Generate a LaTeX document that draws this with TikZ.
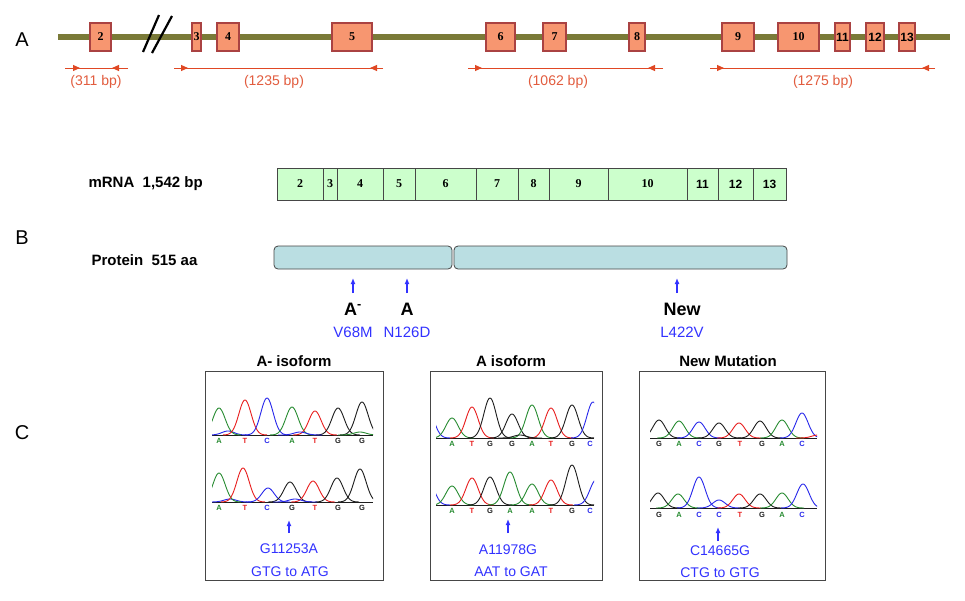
\documentclass[tikz,border=0pt]{standalone}
\usepackage{fontspec}
\setmainfont{Liberation Sans}
\newfontfamily\tnr{Liberation Serif}
\usetikzlibrary{arrows.meta}
\definecolor{bbone}{RGB}{122,122,56}
\definecolor{exfill}{RGB}{247,150,112}
\definecolor{exdraw}{RGB}{170,66,66}
\definecolor{bpred}{RGB}{224,72,36}
\definecolor{bptext}{RGB}{226,92,62}
\definecolor{mfill}{RGB}{204,255,204}
\definecolor{pfill}{RGB}{186,222,226}
\definecolor{mblue}{RGB}{50,50,255}
\definecolor{tG}{RGB}{40,140,50}
\definecolor{tR}{RGB}{232,30,30}
\definecolor{tB}{RGB}{40,40,235}
\definecolor{tK}{RGB}{30,30,30}
\definecolor{edgegray}{RGB}{70,70,70}
\newcommand\fs[1]{\fontsize{#1}{#1}\selectfont}
\newcommand\pk[4]{\draw[#4,line width=0.9pt] plot[domain={#1-22}:{#1+22},samples=45,smooth] (\x,{#2-#3*exp(-((\x-#1)*(\x-#1))/75)});}
\newcommand\trace[2]{\foreach \px/\ph/\pc in {#2}{\pk{\px}{#1}{\ph}{\pc}}}
\newcommand\bases[3]{\foreach \lx/\lt/\lc [count=\k] in {#3}{\node[base,text=\lc] (#1\k) at (\lx,#2) {\lt};}}
\begin{document}
\begin{tikzpicture}[x=1pt,y=-1pt,
  exon/.style={draw=exdraw,fill=exfill,line width=1.1pt,inner sep=0pt,minimum height=28pt,font=\tnr\bfseries\fs{12}},
  mcell/.style={draw=edgegray,fill=mfill,line width=0.8pt,inner sep=0pt,minimum height=32pt,font=\tnr\bfseries\fs{12}},
  pbar/.style={draw=edgegray,fill=pfill,line width=0.8pt,rounded corners=4pt,inner sep=0pt,minimum height=23pt},
  bpline/.style={draw=bpred,line width=1pt},
  bptip/.style={bpline,-{Triangle[length=7pt,width=6pt]}},
  bptxt/.style={text=bptext,font=\fs{14}},
  panel/.style={font=\fs{20}},
  rowlab/.style={font=\bfseries\fs{15}},
  mutlab/.style={font=\bfseries\fs{18}},
  blu/.style={text=mblue,font=\fs{15}},
  blu2/.style={text=mblue,font=\fs{14}},
  barrow/.style={draw=mblue,line width=1.2pt,-{Latex[length=6pt,width=5pt]}},
  cbox/.style={draw=edgegray,line width=0.9pt,inner sep=0pt},
  ctitle/.style={font=\bfseries\fs{15}},
  base/.style={font=\bfseries\fs{7.5},inner sep=0pt},
]
\path[fill=white,use as bounding box] (0,0) rectangle (965,600);

% panel letters
\node[panel] (LA) at (22,40) {A};
\node[panel] (LB) at (22,238) {B};
\node[panel] (LC) at (22,433) {C};

% ---------- A: gene structure ----------
\coordinate (bbL) at (58,37);
\coordinate (bbR) at (950,37);
\draw[bbone,line width=5.5pt] (bbL) -- (bbR);
\draw[black,line width=2.2pt] (143,52) -- (159,15);
\draw[black,line width=2.2pt] (152,53) -- (172,16);
\foreach \a/\b/\n in {90/111/2,192/201/3,217/239/4,332/372/5,486/515/6,543/566/7,629/645/8,722/754/9,778/819/10}
  {\node[exon,minimum width={\b-\a}] (e\n) at ({(\a+\b)/2},37) {\n};}
\foreach \a/\b/\n in {835/850/11,866/884/12,899/915/13}
  {\node[exon,minimum width={\b-\a},font=\bfseries\fs{12}] (e\n) at ({(\a+\b)/2},37) {\n};}

\foreach \i/\l/\r/\ta/\tb/\tx/\txt in {1/65/128/80/112/96/311,2/174/383/188/370/274/1235,3/468/663/482/648/558/1062,4/710/935/724/922/823/1275}{
  \coordinate (bl\i) at (\l,68);
  \coordinate (br\i) at (\r,68);
  \coordinate (ta\i) at (\ta,68);
  \coordinate (tb\i) at (\tb,68);
  \draw[bpline] (bl\i) -- (br\i);
  \draw[bptip] (bl\i) -- (ta\i);
  \draw[bptip] (br\i) -- (tb\i);
  \node[bptxt] (bt\i) at (\tx,82) {(\txt\ bp)};
}

% ---------- B: mRNA and protein ----------
\node[rowlab,anchor=west] (mlab) at (85,184) {mRNA\ \ 1,542 bp};
\foreach \a/\b/\n in {277/323/2,323/337/3,337/383/4,383/415/5,415/476/6,476/518/7,518/549/8,549/608/9,608/687/10}
  {\node[mcell,minimum width={\b-\a}] (m\n) at ({(\a+\b)/2},184) {\n};}
\foreach \a/\b/\n in {687/718/11,718/753/12,753/786/13}
  {\node[mcell,minimum width={\b-\a},font=\bfseries\fs{12}] (m\n) at ({(\a+\b)/2},184) {\n};}

\node[rowlab,anchor=west] (plab) at (88,260) {Protein\ \ 515 aa};
\node[pbar,minimum width=178] (p1) at (363,257.5) {};
\node[pbar,minimum width=333] (p2) at (620.5,257.5) {};

\node[mutlab] (mAm) at (353,309) {A\textsuperscript{-}};
\node[mutlab] (mA) at (407,309) {A};
\node[mutlab] (mNew) at (682,309) {New};
\node[blu] (vAm) at (353,332) {V68M};
\node[blu] (vA) at (407,332) {N126D};
\node[blu] (vNew) at (682,332) {L422V};
\coordinate (aAm0) at (353,293); \coordinate (aAm1) at (353,278);
\coordinate (aA0) at (407,293); \coordinate (aA1) at (407,278);
\coordinate (aN0) at (677,293); \coordinate (aN1) at (677,278);
\draw[barrow] (aAm0) -- (aAm1);
\draw[barrow] (aA0) -- (aA1);
\draw[barrow] (aN0) -- (aN1);

% ---------- C: chromatograms ----------
\node[ctitle] (t1) at (294,361) {A- isoform};
\node[ctitle] (t2) at (511,361) {A isoform};
\node[ctitle] (t3) at (728,361) {New Mutation};
\node[cbox,minimum width=178,minimum height=209] (bx1) at (294,475.5) {};
\node[cbox,minimum width=172,minimum height=209] (bx2) at (516,475.5) {};
\node[cbox,minimum width=186,minimum height=209] (bx3) at (732,475.5) {};

% box 1
\begin{scope}
\clip (212,375) rectangle (373,530);
\draw[tR,line width=0.9pt] (212,435.9) -- (373,435.9);
\draw[tK,line width=0.6pt] (212,435) -- (373,435);
\trace{435}{228/4/tB,219/27/tG,245/35/tR,267/37/tB,292/28/tG,315/24/tR,338/27/tK,362/33/tK,300/3/tB,360/3/tG}
\draw[tR,line width=0.9pt] (212,502.9) -- (373,502.9);
\draw[tK,line width=0.6pt] (212,502) -- (373,502);
\trace{502}{230/3/tB,219/29/tG,243/34/tR,268/14/tB,290/20/tK,313/21/tR,337/24/tK,360/33/tK,295/3/tB}
\end{scope}
\bases{b1t}{441}{219/A/tG,245/T/tR,267/C/tB,292/A/tG,315/T/tR,338/G/tK,362/G/tK}
\bases{b1b}{508}{219/A/tG,245/T/tR,267/C/tB,292/G/tK,315/T/tR,338/G/tK,362/G/tK}
\coordinate (c1a) at (289,533); \coordinate (c1b) at (289,520);
\draw[barrow] (c1a) -- (c1b);
\node[blu2] (g1) at (289,549) {G11253A};
\node[blu2] (h1) at (290,572) {GTG to ATG};

% box 2
\begin{scope}
\clip (436,375) rectangle (594,530);
\draw[tR,line width=0.9pt] (436,438.9) -- (594,438.9);
\draw[tK,line width=0.6pt] (436,438) -- (594,438);
\trace{438}{428/28/tB,452/20/tG,472/31/tR,490/40/tK,512/24/tK,532/33/tG,551/30/tR,572/33/tK,593/36/tB,520/3/tK}
\draw[tR,line width=0.9pt] (436,505.9) -- (594,505.9);
\draw[tK,line width=0.6pt] (436,505) -- (594,505);
\trace{505}{428/25/tB,452/19/tG,472/27/tR,490/28/tK,510/33/tG,532/21/tG,551/25/tR,572/40/tK,596/25/tB}
\end{scope}
\bases{b2t}{444}{452/A/tG,472/T/tR,490/G/tK,512/G/tK,532/A/tG,551/T/tR,572/G/tK,590/C/tB}
\bases{b2b}{511}{452/A/tG,472/T/tR,490/G/tK,510/A/tG,532/A/tG,551/T/tR,572/G/tK,590/C/tB}
\coordinate (c2a) at (508,533); \coordinate (c2b) at (508,519);
\draw[barrow] (c2a) -- (c2b);
\node[blu2] (g2) at (508,550) {A11978G};
\node[blu2] (h2) at (511,572) {AAT to GAT};

% box 3
\begin{scope}
\clip (650,375) rectangle (817,530);
\draw[tR,line width=0.9pt] (650,438.9) -- (817,438.9);
\draw[tK,line width=0.6pt] (650,438) -- (817,438);
\trace{438}{659/18/tK,679/17/tG,699/16/tB,719/15/tK,739/15/tR,760/17/tK,782/18/tG,802/25/tB,818/3/tR}
\draw[tR,line width=0.9pt] (650,508.9) -- (817,508.9);
\draw[tK,line width=0.6pt] (650,508) -- (817,508);
\trace{508}{658/15/tK,678/14/tG,699/31/tB,719/8/tB,739/14/tR,760/14/tK,782/15/tG,803/24/tB}
\end{scope}
\bases{b3t}{444}{659/G/tK,679/A/tG,699/C/tB,719/G/tK,740/T/tR,762/G/tK,782/A/tG,802/C/tB}
\bases{b3b}{515}{659/G/tK,679/A/tG,699/C/tB,719/C/tB,740/T/tR,762/G/tK,782/A/tG,802/C/tB}
\coordinate (c3a) at (718,541); \coordinate (c3b) at (718,527);
\draw[barrow] (c3a) -- (c3b);
\node[blu2] (g3) at (720,551) {C14665G};
\node[blu2] (h3) at (720,573) {CTG to GTG};
\end{tikzpicture}
\end{document}
